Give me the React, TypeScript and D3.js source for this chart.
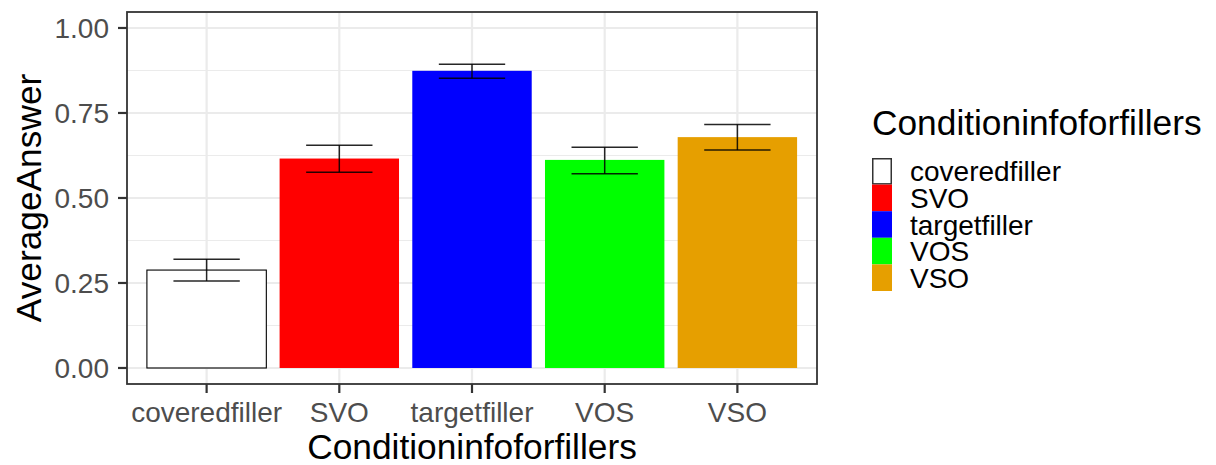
import * as d3 from 'd3';

const categories = ['coveredfiller', 'SVO', 'targetfiller', 'VOS', 'VSO'];
const means = [0.288, 0.616, 0.874, 0.612, 0.679];
const lower = [0.256, 0.576, 0.852, 0.571, 0.641];
const upper = [0.320, 0.655, 0.893, 0.649, 0.716];
const fills = ['#FFFFFF', '#FF0000', '#0000FF', '#00FF00', '#E69F00'];
const yTicks = [0, 0.25, 0.5, 0.75, 1];
const yMinor = [0.125, 0.375, 0.625, 0.875];

const W = 1216;
const H = 465;
const panel = { left: 127, right: 817, top: 12, bottom: 384 };
const font = '"Liberation Sans", Arial, Helvetica, sans-serif';
const tickSize = 28;
const titleSize = 35.3;

export default function App() {
  const y = d3.scaleLinear().domain([-0.0471, 1.047]).range([panel.bottom, panel.top]);
  // discrete x: categories at 1..n, expanded by 0.6 on each side like ggplot
  const x = d3.scaleLinear().domain([0.4, categories.length + 0.6]).range([panel.left, panel.right]);
  const cx = (i: number) => x(i + 1);
  const barW = x(1.45) - x(0.55);
  const capW = x(1.25) - x(0.75);

  const legendX = 872;
  const keyTop = 158;
  const keyH = 26.6;

  return (
    <svg width={W} height={H} style={{ position: 'absolute', left: 0, top: 0, background: '#fff' }} fontFamily={font}>
      <rect x={panel.left} y={panel.top} width={panel.right - panel.left} height={panel.bottom - panel.top} fill="#fff" />
      {yMinor.map(t => (
        <line key={'mn' + t} x1={panel.left} x2={panel.right} y1={y(t)} y2={y(t)} stroke="#EBEBEB" strokeWidth={1.1} />
      ))}
      {yTicks.map(t => (
        <line key={'mj' + t} x1={panel.left} x2={panel.right} y1={y(t)} y2={y(t)} stroke="#EBEBEB" strokeWidth={2.2} />
      ))}
      {categories.map((c, i) => (
        <line key={'vx' + c} x1={cx(i)} x2={cx(i)} y1={panel.top} y2={panel.bottom} stroke="#EBEBEB" strokeWidth={2.2} />
      ))}
      {categories.map((c, i) => (
        <rect
          key={'bar' + c}
          x={cx(i) - barW / 2}
          y={y(means[i])}
          width={barW}
          height={y(0) - y(means[i])}
          fill={fills[i]}
          stroke={i === 0 ? '#000' : 'none'}
          strokeWidth={1.1}
        />
      ))}
      {categories.map((c, i) => (
        <g key={'err' + c} stroke="#000" strokeWidth={1.5} strokeOpacity={0.85}>
          <line x1={cx(i) - capW / 2} x2={cx(i) + capW / 2} y1={y(upper[i])} y2={y(upper[i])} />
          <line x1={cx(i) - capW / 2} x2={cx(i) + capW / 2} y1={y(lower[i])} y2={y(lower[i])} />
          <line x1={cx(i)} x2={cx(i)} y1={y(upper[i])} y2={y(lower[i])} />
        </g>
      ))}
      <rect x={panel.left} y={panel.top} width={panel.right - panel.left} height={panel.bottom - panel.top} fill="none" stroke="#333333" strokeWidth={1.8} />
      {yTicks.map(t => (
        <g key={'yt' + t}>
          <line x1={panel.left - 9} x2={panel.left} y1={y(t)} y2={y(t)} stroke="#333333" strokeWidth={2.2} />
          <text x={panel.left - 18} y={y(t)} dy="0.36em" textAnchor="end" fontSize={tickSize} fill="#4D4D4D">
            {t.toFixed(2)}
          </text>
        </g>
      ))}
      {categories.map((c, i) => (
        <g key={'xt' + c}>
          <line x1={cx(i)} x2={cx(i)} y1={panel.bottom} y2={panel.bottom + 9} stroke="#333333" strokeWidth={2.2} />
          <text x={cx(i)} y={422} textAnchor="middle" fontSize={tickSize} fill="#4D4D4D">
            {c}
          </text>
        </g>
      ))}
      <text x={(panel.left + panel.right) / 2} y={459} textAnchor="middle" fontSize={titleSize} fill="#000">
        Conditioninfoforfillers
      </text>
      <text transform={`translate(41, ${(panel.top + panel.bottom) / 2}) rotate(-90)`} textAnchor="middle" fontSize={titleSize} fill="#000">
        AverageAnswer
      </text>
      <text x={legendX} y={135} fontSize={titleSize} fill="#000">
        Conditioninfoforfillers
      </text>
      {categories.map((c, i) => (
        <g key={'lg' + c}>
          <rect
            x={legendX + (i === 0 ? 0.75 : 0)}
            y={keyTop + i * keyH + (i === 0 ? 0.75 : 0)}
            width={20 - (i === 0 ? 1.5 : 0)}
            height={keyH - (i === 0 ? 1.5 : 0)}
            fill={fills[i]}
            stroke={i === 0 ? '#333' : 'none'}
            strokeWidth={1.5}
          />
          <text x={910} y={keyTop + i * keyH + keyH / 2} dy="0.36em" fontSize={tickSize} fill="#000">
            {c}
          </text>
        </g>
      ))}
    </svg>
  );
}
